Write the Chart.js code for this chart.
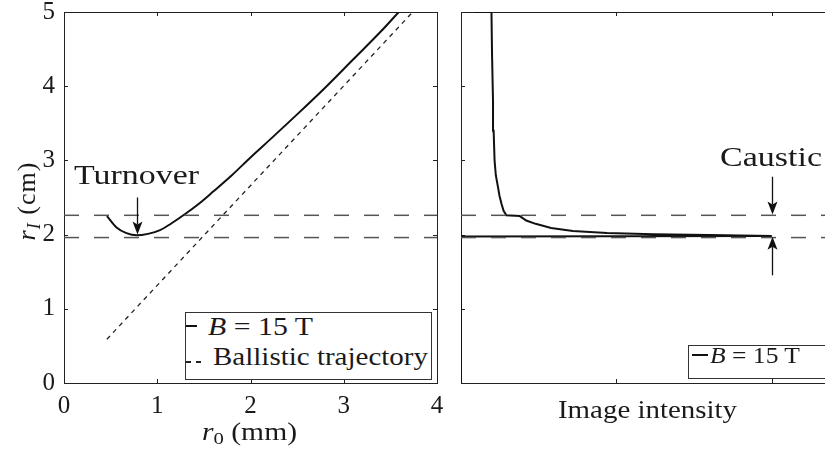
<!DOCTYPE html>
<html>
<head>
<meta charset="utf-8">
<script src="https://cdn.jsdelivr.net/npm/chart.js@4.4.1/dist/chart.umd.min.js"></script>
<style>
  html, body { margin: 0; padding: 0; background: #fff; }
  #figure {
    position: relative; width: 825px; height: 450px; overflow: hidden; background: #fff;
    font-family: "Liberation Serif", "Times New Roman", serif; color: #1a1a1a;
  }
  #figure canvas { position: absolute; top: 0; }
  #leftChart { left: 0; }
  #rightChart { left: 397px; }
  .lbl { position: absolute; white-space: nowrap; line-height: 1; transform-origin: 0 0; }
  .lbl sub { font-size: 0.7em; vertical-align: -0.25em; line-height: 0; }
  .legend { position: absolute; border: 1px solid #333; background: #fff; box-sizing: border-box; }
  .swatch { position: absolute; }
</style>
</head>
<body>
<div id="figure">
  <canvas id="leftChart" width="450" height="450"></canvas>
  <canvas id="rightChart" width="450" height="450"></canvas>

  <div class="lbl fit" data-w="125" style="left:74px; top:162px; font-size:27px;">Turnover</div>
  <div class="lbl fit" data-w="102" style="left:720px; top:144px; font-size:27px;">Caustic</div>
  <div class="lbl fit" data-w="95" style="left:202px; top:419px; font-size:25px;"><i>r</i><sub>0</sub> (mm)</div>
  <div class="lbl fit" data-w="179" style="left:558px; top:397px; font-size:25px;">Image intensity</div>
  <div class="lbl" style="left:27px; top:201px; font-size:26px; letter-spacing:1px; transform-origin:50% 50%; transform:translate(-50%,-50%) rotate(-90deg);"><i>r</i><sub><i>I</i></sub> (cm)</div>

  <div class="legend" style="left:185px; top:312px; width:247px; height:68px;"></div>
  <div class="swatch" style="left:186px; top:325px; width:11px; height:2px; background:#111;"></div>
  <div class="lbl fit" data-w="105" style="left:208px; top:314px; font-size:25px;"><i>B</i> = 15 T</div>
  <div class="swatch" style="left:186px; top:361px; width:15px; height:1.5px; background:repeating-linear-gradient(to right, #222 0 5px, transparent 5px 10px);"></div>
  <div class="lbl fit" data-w="215" style="left:213px; top:344px; font-size:25px;">Ballistic trajectory</div>

  <div class="legend" style="left:688px; top:345px; width:160px; height:34px;"></div>
  <div class="swatch" style="left:692px; top:354px; width:16px; height:2px; background:#111;"></div>
  <div class="lbl fit" data-w="90" style="left:710px; top:343px; font-size:24px;"><i>B</i> = 15 T</div>
</div>

<script>
// r_I versus r_0 for B = 15 T
const r0Field = [0.46, 0.56, 0.67, 0.78, 0.9, 1.03, 1.15, 1.28, 1.45, 1.6, 1.8, 2.0, 2.2, 2.5, 2.8, 3.1, 3.4, 3.59];
const rIField = [2.25, 2.10, 2.02, 1.99, 2.01, 2.06, 2.15, 2.26, 2.42, 2.58, 2.80, 3.04, 3.27, 3.62, 3.98, 4.36, 4.74, 5.0];

// straight-line (field-free) trajectory
const r0Ballistic = [0.46, 3.74];
const rIBallistic = [0.59, 5.0];

// caustic band edges
const causticLow = 1.96;
const causticHigh = 2.26;

// image intensity profile, listed along r_I
const intensity = [0, 0, 1.0, 0.80, 0.62, 0.47, 0.36, 0.29, 0.24, 0.21, 0.189, 0.146, 0.137, 0.13, 0.124, 0.119, 0.112, 0.108, 0.105, 0.103, 0.100, 0.098, 0.044];
const rIImage   = [0, 1.975, 1.98, 1.995, 2.005, 2.02, 2.05, 2.09, 2.145, 2.19, 2.25, 2.26, 2.32, 2.42, 2.52, 2.64, 2.8, 3.0, 3.4, 3.8, 4.4, 5.0, 5.0];

const xTicksLeft = [0, 1, 2, 3, 4];
const xTicksRight = [0, 0.5, 1.0];
const yTicks = [0, 1, 2, 3, 4, 5];

const ink = '#111';
const dashGrey = '#555';
const tickFont = { family: '"Liberation Serif", serif', size: 25 };

const pts = (xs, ys) => xs.map((x, i) => ({ x: x, y: ys[i] }));
const hline = (x0, x1, y) => [{ x: x0, y: y }, { x: x1, y: y }];

function dashedBand(x0, x1) {
    return [causticHigh, causticLow].map(v => ({
        data: hline(x0, x1, v),
        borderColor: dashGrey,
        borderWidth: 1.5,
        borderDash: [15, 15]
    }));
}

// box round the axes with short inward ticks on all four sides
const framePlugin = {
    id: 'frame',
    beforeDatasetsDraw(chart) {
        const {ctx, chartArea: a, scales} = chart;
        const tl = 4;
        ctx.save();
        ctx.strokeStyle = '#222';
        ctx.lineWidth = 1;
        ctx.strokeRect(a.left + 0.5, a.top + 0.5, a.right - a.left, a.bottom - a.top);
        ctx.beginPath();
        chart.options.xTickValues.forEach(v => {
            const px = Math.round(scales.x.getPixelForValue(v)) + 0.5;
            if (px <= a.left + 1 || px >= a.right - 1) return;
            ctx.moveTo(px, a.bottom); ctx.lineTo(px, a.bottom - tl);
            ctx.moveTo(px, a.top); ctx.lineTo(px, a.top + tl);
        });
        yTicks.forEach(v => {
            const py = Math.round(scales.y.getPixelForValue(v)) + 0.5;
            if (py <= a.top + 1 || py >= a.bottom - 1) return;
            ctx.moveTo(a.left, py); ctx.lineTo(a.left + tl, py);
            ctx.moveTo(a.right, py); ctx.lineTo(a.right - tl, py);
        });
        ctx.stroke();
        ctx.restore();
    }
};

function drawArrow(ctx, x, yFrom, yTo) {
    const dir = Math.sign(yTo - yFrom);
    const headLen = 13, headHalf = 5, notch = 3;
    ctx.beginPath();
    ctx.moveTo(x, yFrom);
    ctx.lineTo(x, yTo - dir * (headLen - notch));
    ctx.stroke();
    ctx.beginPath();
    ctx.moveTo(x, yTo);
    ctx.lineTo(x - headHalf, yTo - dir * headLen);
    ctx.lineTo(x, yTo - dir * (headLen - notch));
    ctx.lineTo(x + headHalf, yTo - dir * headLen);
    ctx.closePath();
    ctx.fill();
}

// arrows given in data units: [x, yFrom, yTo]
const arrowPlugin = {
    id: 'arrows',
    afterDatasetsDraw(chart) {
        const {ctx, scales} = chart;
        ctx.save();
        ctx.strokeStyle = ink;
        ctx.fillStyle = ink;
        ctx.lineWidth = 1.3;
        chart.options.arrows.forEach(([x, y0, y1]) => {
            drawArrow(ctx, Math.round(scales.x.getPixelForValue(x)) + 0.5,
                scales.y.getPixelForValue(y0), scales.y.getPixelForValue(y1));
        });
        ctx.restore();
    }
};

function baseOptions(xMax, xTickValues, showTickLabels, arrows) {
    return {
        responsive: false,
        animation: false,
        events: [],
        xTickValues: xTickValues,
        arrows: arrows,
        layout: { padding: { left: 0, top: 12, right: 13, bottom: 0 } },
        plugins: { legend: { display: false }, tooltip: { enabled: false } },
        elements: { point: { radius: 0 } },
        scales: {
            x: {
                type: 'linear', min: 0, max: xMax,
                grid: { display: false, drawTicks: false },
                border: { display: false },
                afterBuildTicks: s => { s.ticks = xTickValues.map(v => ({ value: v })); },
                ticks: { display: showTickLabels, padding: 8, color: '#1a1a1a', font: tickFont },
                afterFit: s => { s.height = 67; s.paddingLeft = 0; s.paddingRight = 0; }
            },
            y: {
                type: 'linear', min: 0, max: 5,
                grid: { display: false, drawTicks: false },
                border: { display: false },
                afterBuildTicks: s => { s.ticks = yTicks.map(v => ({ value: v })); },
                ticks: { display: showTickLabels, padding: 9, color: '#1a1a1a', font: tickFont },
                afterFit: s => { s.width = 64; s.paddingTop = 0; s.paddingBottom = 0; }
            }
        }
    };
}

new Chart(document.getElementById('leftChart'), {
    type: 'scatter',
    data: {
        datasets: [
            ...dashedBand(0, 4),
            {
                label: 'Ballistic trajectory',
                data: pts(r0Ballistic, rIBallistic),
                borderColor: '#222',
                borderWidth: 1.3,
                borderDash: [4.5, 4.5]
            },
            {
                label: 'B = 15 T',
                data: pts(r0Field, rIField),
                borderColor: ink,
                borderWidth: 2,
                cubicInterpolationMode: 'monotone'
            }
        ].map(d => Object.assign({ showLine: true, pointRadius: 0, fill: false }, d))
    },
    options: baseOptions(4, xTicksLeft, true, [[0.78, 2.5, 2.0]]),
    plugins: [framePlugin, arrowPlugin]
});

new Chart(document.getElementById('rightChart'), {
    type: 'scatter',
    data: {
        datasets: [
            ...dashedBand(0, 1.2),
            {
                label: 'B = 15 T',
                data: pts(intensity, rIImage),
                borderColor: ink,
                borderWidth: 2,
                tension: 0
            }
        ].map(d => Object.assign({ showLine: true, pointRadius: 0, fill: false }, d))
    },
    options: baseOptions(1.2, xTicksRight, false, [[1.0, 2.78, 2.27], [1.0, 1.45, 1.97]]),
    plugins: [framePlugin, arrowPlugin]
});

// stretch the serif labels to the widths set on them
document.fonts.ready.then(() => {
    document.querySelectorAll('.fit').forEach(el => {
        const w = el.getBoundingClientRect().width;
        el.style.transform = 'scaleX(' + (parseFloat(el.dataset.w) / w) + ')';
    });
});
</script>
</body>
</html>
